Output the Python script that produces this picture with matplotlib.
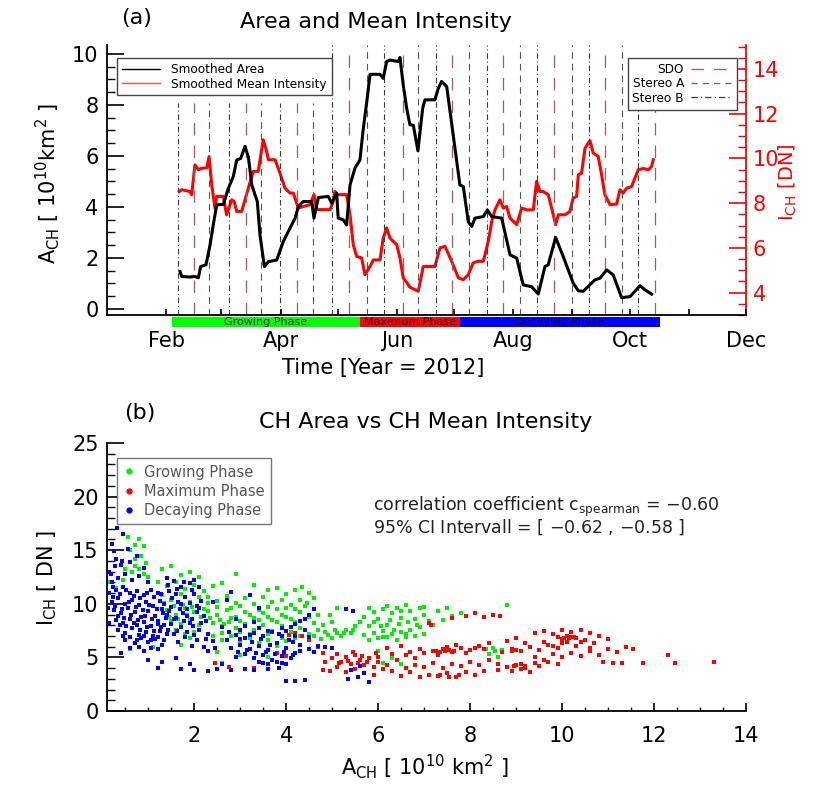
import numpy as np
import matplotlib
matplotlib.use("Agg")
import matplotlib.pyplot as plt
import matplotlib.transforms as mtransforms
from matplotlib.patches import Rectangle
from matplotlib.lines import Line2D
from matplotlib.ticker import MultipleLocator, FixedLocator, FixedFormatter

# ---------------- top panel data (day of year 2012, 0 = 1 Jan) ----------------
area_day = [38.3, 39.2, 43.5, 46.1, 47.9, 49.1, 51.9, 54.0, 55.7, 57.5, 61.0, 63.6, 66.2, 68.0,
            70.1, 72.3, 74.1, 75.9, 78.8, 80.2, 82.5, 84.6, 89.0, 92.4, 95.9, 98.6, 100.3, 102.9,
            107.3, 108.5, 110.8, 116.0, 117.8, 120.4, 121.2, 123.9, 125.6, 127.4, 130.0, 132.6,
            134.4, 136.1, 137.9, 143.1, 144.8, 146.6, 148.3, 152.7, 153.6, 155.3, 157.1, 158.8,
            160.6, 163.0, 165.5, 166.7, 171.9, 173.7, 175.4, 178.1, 181.5, 185.0, 186.8, 189.4,
            191.2, 192.9, 197.3, 199.4, 201.7, 206.9, 211.3, 214.8, 218.2, 222.6, 226.1, 229.6,
            231.3, 235.2, 239.2, 244.4, 247.1, 249.7, 255.8, 258.4, 262.0, 265.4, 269.8, 274.2,
            279.4, 282.0, 285.5]
area_val = [1.46, 1.27, 1.25, 1.27, 1.22, 1.66, 1.73, 2.5, 3.29, 4.08, 4.1, 4.73, 5.19, 5.84,
            5.9, 6.37, 5.97, 4.86, 4.21, 2.9, 1.66, 1.85, 1.92, 2.64, 3.16, 3.56, 4.01, 4.21,
            4.21, 3.56, 4.37, 4.41, 4.15, 4.54, 3.56, 3.49, 3.29, 4.86, 5.52, 5.84,
            7.09, 8.07, 9.2, 9.2, 9.04, 9.7, 9.76, 9.7, 9.86, 8.78, 7.87, 7.22,
            7.2, 6.2, 7.87, 8.2, 8.2, 8.65, 8.92, 8.72, 6.82, 4.86, 4.8, 3.42,
            3.23, 3.56, 3.62, 3.88, 3.62, 3.56, 2.12, 1.99, 0.94, 0.87, 0.58, 1.66,
            1.73, 2.8, 2.05, 1.01, 0.71, 0.69, 1.14, 1.2, 1.53, 1.33, 0.44, 0.48,
            0.91, 0.75, 0.58]

int_day = [37.9, 39.2, 43.5, 44.4, 46.1, 47.9, 49.1, 52.3, 53.5, 54.9, 56.6, 57.5, 61.0, 62.7,
           65.4, 66.7, 68.0, 70.6, 74.1, 76.7, 79.3, 81.9, 83.7, 84.6, 88.1, 90.7, 93.3, 95.9,
           97.7, 100.3, 102.9, 106.4, 108.5, 109.9, 116.9, 118.6, 119.5, 120.4, 125.6, 127.4,
           129.1, 130.9, 133.5, 135.2, 137.9, 139.6, 143.1, 144.8, 146.6, 148.3, 151.9, 153.6,
           155.3, 157.9, 158.8, 161.5, 163.2, 165.8, 171.9, 174.6, 177.2, 180.7, 184.2, 186.8,
           189.4, 192.0, 194.6, 197.3, 199.9, 201.7, 203.4, 206.0, 207.8, 209.5, 211.3, 214.8,
           217.4, 220.0, 223.5, 225.2, 227.0, 228.7, 231.3, 233.1, 235.2, 236.6, 240.1, 242.7,
           244.4, 246.2, 247.1, 248.8, 250.6, 253.2, 254.9, 257.5, 259.3, 261.0, 263.7, 267.2,
           268.9, 270.6, 272.4, 275.0, 276.8, 278.5, 281.1, 283.8, 285.5, 286.4]
int_val = [8.52, 8.6, 8.52, 8.38, 9.71, 9.49, 9.55, 9.58, 10.08, 8.82, 7.78, 8.3, 8.3, 7.48,
           8.15, 8.07, 7.63, 7.63, 8.67, 9.42, 9.42, 10.83, 10.31, 9.94, 9.94, 9.34, 8.67, 8.45,
           8.45, 7.78, 7.85, 7.93, 8.38, 7.71, 7.71, 8.07, 8.52, 8.38, 8.38, 7.48,
           6.14, 5.62, 5.55, 4.8, 5.17, 5.46, 5.46, 6.44, 6.89, 6.44, 6.14, 5.55,
           4.66, 4.36, 4.24, 4.13, 4.06, 5.17, 5.17, 6.0, 6.07, 5.4, 4.66, 4.58,
           4.8, 5.33, 5.4, 5.4, 6.29, 7.18, 7.7, 8.15, 7.78, 7.85, 7.33, 7.04,
           7.78, 7.7, 7.7, 8.97, 8.52, 8.52, 8.38, 7.78, 7.04, 7.48, 7.48, 7.63,
           8.23, 8.3, 9.27, 9.34, 10.46, 10.79, 10.24, 10.09, 9.27, 8.38, 7.93, 7.96,
           8.6, 8.45, 8.67, 8.74, 9.12, 9.49, 9.55, 9.49, 9.64, 9.94]

stb_days = [37.2, 64.0, 90.7, 118.0, 145.2, 172.5, 199.2, 225.4, 252.7, 278.4]
sdo_days = [45.6, 72.9, 99.6, 126.9, 155.2, 180.9, 207.6, 234.3, 261.1, 287.3]
sta_days = [53.5, 80.7, 108.0, 136.3, 163.0, 189.8, 216.5, 243.8, 270.0]

phase_names = ["Growing Phase", "Maximum Phase", "Decaying Phase"]
phase_start = [34.1, 132.6, 185.1]
phase_end = [132.6, 185.1, 289.9]
phase_colors = ["#00ff00", "#ff0000", "#0000ff"]
phase_text_colors = ["#003300", "#330000", "#00005a"]

month_days = [31, 60, 91, 121, 152, 182, 213, 244, 274, 305, 335]
month_labels = ["Feb", "", "Apr", "", "Jun", "", "Aug", "", "Oct", "", "Dec"]

# ---------------- bottom panel data: (area, intensity) ----------------
grow_pts = [
    (0.55, 16.2), (0.8, 16.0), (0.9, 15.4), (0.6, 15.0), (0.7, 14.2), (0.85, 14.5), (0.95, 13.8),
    (0.5, 13.2), (0.7, 13.5), (0.9, 12.8), (0.15, 12.0), (0.3, 11.5), (0.12, 11.0), (0.45, 12.2),
    (0.7, 15.5), (0.65, 13.0), (0.8, 13.2), (1.0, 12.5),
    (1.3, 13.2), (1.5, 13.5), (1.7, 12.7), (1.9, 13.0), (2.1, 12.5), (1.2, 12.0), (1.4, 11.7),
    (1.6, 12.0), (1.8, 11.4), (2.0, 11.8), (2.2, 11.2), (1.3, 10.8), (1.5, 10.4), (1.7, 10.9),
    (1.9, 10.2), (2.1, 10.6), (2.3, 10.1), (1.4, 9.4), (1.6, 9.0), (1.8, 9.6), (2.0, 9.2),
    (2.2, 9.5), (1.5, 8.4), (1.7, 8.1), (1.9, 8.5), (2.1, 8.0), (0.9, 7.0), (1.1, 6.0),
    (0.6, 5.8), (1.7, 6.2), (1.9, 6.8),
    (1.35, 10.1), (1.55, 9.8), (1.75, 9.9), (1.95, 9.7), (1.45, 8.8), (1.65, 8.6), (1.85, 9.0),
    (2.15, 8.8), (1.6, 7.6), (1.8, 7.2), (2.0, 7.4),
    (2.4, 11.7), (2.6, 11.9), (2.9, 12.8), (3.3, 11.8), (3.6, 11.3), (3.8, 11.5), (4.0, 10.9),
    (4.2, 11.3), (4.35, 11.6), (4.5, 11.0), (2.3, 10.6), (2.5, 10.3), (2.7, 10.7), (2.9, 10.1),
    (3.1, 10.5), (3.3, 10.0), (3.5, 10.6), (3.7, 10.2), (3.9, 10.4), (4.1, 9.9), (4.3, 10.4),
    (4.45, 10.1), (4.6, 10.5), (2.3, 9.3), (2.5, 9.0), (2.7, 9.4), (2.9, 8.8), (3.1, 9.2),
    (3.3, 8.7), (3.5, 9.1), (3.7, 8.5), (3.9, 9.0), (4.1, 8.6), (4.3, 9.2), (4.5, 8.8),
    (4.7, 9.0), (2.4, 8.2), (2.6, 7.9), (2.75, 8.3), (2.9, 7.7), (3.1, 8.1), (3.3, 7.6),
    (3.5, 8.0), (3.7, 7.5), (3.9, 7.9), (4.1, 7.4), (4.3, 7.7), (4.5, 7.2), (2.4, 7.0),
    (2.6, 6.6), (2.8, 7.0), (3.0, 6.4), (3.2, 6.8), (3.4, 6.3), (3.6, 6.6), (3.8, 6.1),
    (4.0, 6.5), (4.2, 6.8), (2.5, 5.5), (2.6, 4.5), (3.0, 5.2), (3.6, 5.0),
    (2.35, 8.7), (2.55, 8.5), (2.65, 8.1), (2.8, 8.7), (3.0, 8.4), (3.2, 9.0), (3.4, 8.5),
    (3.6, 8.8), (3.8, 8.3), (4.0, 8.8), (4.2, 8.3), (4.4, 8.6), (4.6, 8.2), (2.5, 9.7),
    (2.8, 9.6), (3.0, 9.8), (3.4, 9.4), (3.6, 9.7), (3.8, 9.5), (4.0, 9.6), (4.2, 9.5),
    (4.4, 9.8), (2.6, 7.3), (3.0, 7.4), (3.2, 7.2), (3.6, 7.2), (3.9, 6.8), (4.3, 7.0),
    (4.6, 7.0), (4.75, 6.7), (4.9, 7.1), (5.0, 6.8), (5.1, 7.3), (5.2, 7.0), (5.3, 7.6),
    (5.4, 7.3), (5.5, 7.9), (4.8, 8.0), (5.0, 8.3), (4.95, 9.0), (5.1, 9.6),
    (4.7, 7.6), (4.85, 7.4), (5.05, 7.6), (5.25, 7.3), (5.45, 7.6),
    (5.6, 8.3), (5.7, 8.8), (5.8, 7.9), (5.9, 9.2), (6.0, 8.6), (6.1, 9.5), (6.2, 8.0),
    (6.3, 9.1), (6.4, 9.6), (6.5, 8.7), (6.6, 9.9), (6.7, 9.3), (6.8, 8.6), (6.9, 9.6),
    (7.0, 9.0), (7.1, 8.4), (5.7, 7.1), (5.8, 6.6), (5.9, 7.3), (6.0, 6.8), (6.1, 7.5),
    (6.2, 6.9), (6.3, 7.2), (6.4, 6.6), (6.5, 7.4), (6.6, 6.9), (6.7, 7.6), (6.8, 7.0),
    (6.9, 7.8), (7.0, 7.2), (7.2, 8.0), (7.3, 9.3), (7.5, 9.6), (7.6, 8.9), (7.8, 9.1),
    (7.0, 9.7), (7.4, 8.5), (8.8, 9.9),
    (5.9, 8.3), (6.05, 7.9), (6.25, 8.5), (6.45, 8.1), (6.65, 8.3), (6.85, 8.0), (6.1, 6.9),
    (6.35, 7.6), (6.6, 7.2), (5.8, 9.6), (6.2, 9.8), (6.5, 9.3),
    (6.1, 4.5), (6.3, 4.9), (6.5, 4.4), (6.0, 5.6), (8.4, 5.3), (8.5, 5.9), (8.55, 5.6),
    (8.6, 5.0), (8.7, 5.7), (8.35, 5.8)]

max_pts = [
    (3.5, 5.2), (3.8, 5.4), (4.0, 5.1), (4.05, 7.1), (4.2, 7.3), (4.35, 7.0), (4.5, 6.6),
    (2.45, 4.5), (2.75, 4.1), (3.3, 4.0), (4.7, 6.0), (4.8, 5.4), (4.85, 4.6), (4.8, 3.8),
    (4.95, 3.7), (5.0, 4.9), (5.1, 5.3), (5.2, 4.6), (5.3, 5.0), (5.4, 4.4), (5.5, 5.2),
    (5.6, 4.8), (5.7, 4.3), (5.8, 4.9), (5.9, 4.1), (6.0, 4.6), (6.1, 3.9), (6.2, 4.3),
    (5.1, 4.1), (5.3, 3.6), (5.5, 3.9), (5.7, 3.5), (5.9, 3.4), (6.3, 3.7), (6.5, 3.3),
    (6.7, 3.6), (6.9, 3.2), (7.1, 3.4), (7.3, 3.3), (7.5, 3.5), (7.7, 3.2), (7.9, 3.6),
    (8.1, 3.4), (8.3, 3.7), (6.4, 4.8), (6.6, 5.2), (6.8, 4.9), (7.0, 5.4), (7.2, 5.6),
    (7.4, 5.8), (7.6, 5.5), (7.8, 5.9), (8.0, 5.7), (8.2, 6.1), (8.4, 6.3), (7.3, 5.2),
    (7.5, 6.0), (7.7, 6.2), (7.9, 5.4), (6.6, 4.0), (6.8, 4.3), (7.0, 4.1), (7.2, 4.5),
    (7.4, 4.0), (7.6, 4.4), (7.8, 4.2), (8.0, 4.6), (8.2, 4.3), (8.4, 4.8), (8.6, 4.4),
    (8.8, 4.1), (9.0, 4.3), (9.2, 4.0), (9.4, 4.5), (8.6, 3.8), (8.9, 3.7), (9.1, 3.9),
    (9.3, 3.6), (8.7, 5.5), (8.9, 5.8), (9.1, 5.6), (9.3, 6.0), (9.5, 5.7), (9.7, 6.2),
    (9.9, 5.9), (10.1, 6.4), (10.3, 6.1), (10.5, 6.6), (10.7, 6.3), (8.8, 6.5), (9.0, 6.8),
    (9.2, 6.3), (9.4, 5.0), (9.6, 4.8), (9.8, 5.3), (10.0, 5.0), (10.2, 5.4), (10.4, 5.1),
    (10.6, 5.6), (10.8, 5.2), (11.0, 5.8), (11.2, 5.5), (10.9, 4.6), (11.1, 4.5), (11.4, 6.0),
    (11.3, 4.5), (9.4, 7.3), (9.6, 7.5), (9.8, 7.2), (10.0, 7.6), (10.2, 7.4), (10.4, 7.6),
    (10.6, 7.3), (10.8, 7.0), (9.9, 6.9), (10.1, 7.0), (10.3, 6.8), (10.0, 6.7), (10.2, 6.9),
    (7.1, 8.2), (7.15, 8.0), (7.9, 8.9), (8.1, 9.1), (8.3, 8.8), (8.5, 9.0), (8.65, 8.9),
    (7.6, 8.7), (11.75, 4.5), (12.3, 5.2), (12.45, 4.5), (13.3, 4.6), (11.55, 5.8), (11.0, 6.7),
    (6.2, 5.9), (6.5, 6.1),
    (5.15, 4.5), (5.35, 4.7), (5.55, 4.5), (5.75, 4.6), (5.45, 5.5), (5.65, 5.1), (7.25, 5.6),
    (7.35, 5.5), (7.45, 5.6), (7.55, 5.7), (7.65, 5.6), (7.35, 3.4), (7.55, 3.2), (7.75, 3.4),
    (8.9, 5.6), (9.0, 5.7), (8.95, 4.2), (9.1, 4.4), (9.2, 4.2), (10.05, 6.8), (10.15, 6.8),
    (10.25, 6.9), (9.6, 6.4), (9.8, 6.1), (10.0, 6.3), (10.4, 6.4), (10.6, 5.9), (9.5, 4.2),
    (9.7, 4.6), (9.9, 4.4), (8.1, 5.9), (8.3, 5.8), (6.9, 5.8), (6.7, 5.5), (6.3, 5.3),
    (6.0, 5.0), (5.95, 5.4)]

dec_pts = [
    (0.37, 18.6), (0.48, 18.0), (0.31, 17.1), (0.2, 15.6), (0.25, 14.9), (0.45, 16.5),
    (0.55, 15.1), (0.3, 14.2), (0.15, 13.0), (0.4, 13.6), (0.6, 13.9), (0.75, 14.5), (0.9, 13.3),
    (0.2, 12.0), (0.35, 12.4), (0.5, 12.8), (0.65, 12.2), (0.8, 12.6), (1.0, 12.0),
    (0.18, 12.8), (0.28, 13.5), (0.42, 14.0), (0.22, 10.6), (0.12, 9.6), (0.15, 8.2),
    (0.15, 11.0), (0.3, 11.3), (0.45, 11.6), (0.6, 11.0), (0.75, 11.2), (0.9, 10.8), (1.05, 11.3),
    (1.2, 11.0), (0.2, 10.2), (0.35, 10.5), (0.5, 10.0), (0.65, 10.4), (0.8, 9.9), (0.95, 10.2),
    (1.1, 9.8), (1.25, 10.3), (0.25, 9.4), (0.4, 9.1), (0.55, 9.6), (0.7, 9.2), (0.85, 8.8),
    (1.0, 9.3), (1.15, 8.9), (1.3, 9.5), (0.3, 8.5), (0.45, 8.2), (0.6, 8.6), (0.75, 8.0),
    (0.9, 8.3), (1.05, 7.9), (1.2, 8.4), (1.35, 8.0), (0.35, 7.6), (0.5, 7.3), (0.65, 7.7),
    (0.8, 7.1), (0.95, 7.4), (1.1, 7.0), (1.25, 7.5), (1.4, 7.2), (0.5, 6.6), (0.7, 6.3),
    (0.85, 6.8), (1.0, 6.4), (1.15, 6.7), (1.3, 6.2), (0.6, 5.9), (0.9, 5.6), (1.2, 5.8),
    (0.4, 5.4),
    (0.22, 11.6), (0.38, 10.9), (0.52, 11.3), (0.68, 10.7), (0.82, 10.5), (0.98, 11.0),
    (1.12, 10.6), (1.28, 10.9), (0.28, 9.8), (0.42, 9.5), (0.58, 10.2), (0.72, 9.7), (0.88, 9.4),
    (1.02, 9.9), (1.18, 9.5), (1.32, 9.1), (0.33, 8.9), (0.48, 8.7), (0.62, 9.0), (0.78, 8.5),
    (0.92, 8.9), (1.08, 8.6), (1.22, 8.1), (1.38, 8.7), (0.38, 8.0), (0.52, 7.9), (0.68, 8.2),
    (0.82, 7.6), (0.98, 7.8), (1.12, 7.5), (1.28, 7.8), (1.42, 7.6), (0.45, 7.0), (0.6, 6.9),
    (0.75, 6.6), (0.9, 7.0), (1.05, 6.6), (1.2, 6.9), (1.35, 6.6), (0.8, 6.0), (1.05, 5.9),
    (1.4, 12.4), (1.55, 12.1), (1.7, 11.6), (1.9, 11.9), (2.0, 12.2), (1.45, 11.2), (1.6, 10.9),
    (1.8, 10.6), (2.0, 10.9), (2.15, 10.3), (1.35, 10.0), (1.5, 9.7), (1.65, 10.2), (1.85, 9.5),
    (2.05, 9.8), (1.4, 9.0), (1.6, 8.7), (1.75, 9.1), (1.95, 8.6), (2.2, 8.9), (1.5, 8.1),
    (1.7, 7.8), (1.9, 8.2), (2.1, 7.6), (1.55, 7.2), (1.8, 6.9), (2.0, 7.1), (2.25, 6.7),
    (1.65, 6.4), (1.95, 6.1), (2.2, 6.0), (2.4, 6.5),
    (1.42, 11.8), (1.62, 11.4), (1.78, 12.0), (1.95, 11.3), (2.1, 11.6), (1.52, 10.5),
    (1.72, 10.0), (1.9, 10.1), (2.1, 9.6), (1.45, 9.3), (1.68, 9.5), (1.85, 8.9), (2.05, 9.2),
    (2.25, 8.4), (1.55, 8.6), (1.78, 8.4), (1.98, 7.9), (2.15, 8.2), (1.62, 7.5), (1.85, 7.4),
    (2.05, 6.6), (2.3, 7.2), (2.45, 5.9), (2.3, 5.6),
    (1.0, 4.8), (1.3, 4.6), (1.6, 4.9), (1.9, 4.4), (1.7, 3.9), (2.0, 3.8), (2.3, 3.7),
    (2.5, 3.9), (2.8, 3.8), (3.1, 3.9), (3.3, 3.8), (3.6, 3.9), (3.85, 4.0), (2.6, 4.4),
    (1.2, 4.0),
    (2.6, 7.8), (2.9, 8.6), (3.1, 7.9), (3.3, 8.3), (2.7, 6.6), (2.9, 7.1), (3.1, 6.8),
    (3.3, 7.3), (3.5, 7.0), (3.7, 7.4), (3.9, 7.7), (2.8, 5.9), (3.0, 6.2), (3.2, 5.8),
    (3.4, 6.1), (3.6, 5.7), (3.8, 6.3), (4.0, 5.9), (2.9, 5.0), (3.1, 5.3), (3.3, 4.9),
    (3.5, 5.2), (3.7, 4.8), (3.9, 5.1), (4.1, 4.9), (4.2, 5.4), (3.5, 4.5), (3.8, 4.6),
    (4.0, 4.4), (2.4, 10.2), (2.7, 10.4), (2.8, 11.1), (3.2, 10.8), (3.4, 9.6),
    (2.75, 7.4), (3.0, 7.6), (3.2, 7.1), (3.4, 7.7), (3.6, 7.5), (3.0, 6.7), (3.25, 6.4),
    (3.45, 6.7), (3.65, 6.2), (2.95, 5.5), (3.15, 5.7), (3.35, 5.4), (3.55, 5.5), (3.75, 5.3),
    (3.95, 5.5), (4.15, 5.2), (4.3, 5.6), (3.4, 4.6), (3.6, 4.4), (3.9, 4.5), (4.4, 7.6),
    (4.2, 7.0), (3.85, 7.2), (4.15, 6.4), (4.5, 6.9),
    (3.9, 7.0), (4.0, 7.5), (4.1, 7.8), (4.2, 8.1), (4.3, 8.4), (4.4, 8.6), (4.5, 9.0),
    (4.6, 9.5), (4.05, 6.6), (4.3, 6.2),
    (4.5, 5.8), (4.7, 6.1), (4.85, 6.0), (4.6, 5.5), (5.0, 5.9), (5.3, 9.5), (5.45, 9.3),
    (5.4, 3.8), (5.55, 3.2), (5.7, 3.5), (5.8, 2.7), (5.6, 4.2), (5.35, 3.0),
    (4.0, 2.8), (4.2, 2.8), (4.4, 2.9)]

corr_line1 = r"correlation coefficient c$_{\mathregular{spearman}}$ = $-$0.60"
corr_line2 = r"95% CI Intervall = [ $-$0.62 , $-$0.58 ]"

# ---------------- figure ----------------
W, H = 830, 790
fig = plt.figure(figsize=(W / 100, H / 100), dpi=100)
plt.rcParams["mathtext.fontset"] = "dejavusans"


def fx(x):
    return x / W


def fy(y):
    return 1 - y / H


# top axes: left 107, right 746, top 45, bottom 315 (pixels)
ax1 = fig.add_axes([fx(107), fy(315), fx(746) - fx(107), fy(45) - fy(315)])
ax2 = ax1.twinx()

ax1.set_xlim(0, 335)
ax1.set_ylim(-0.24, 10.35)
ax2.set_ylim(3.0, 15.07)

# vertical observation lines
sdo_col = "#a8585f"
for d in stb_days:
    top = 0.785 if d < 115 else (0.77 if d > 275 else 1.0)
    ax1.axvline(d, ymin=0, ymax=top, color="#3a3a3a", lw=0.8, dashes=(5, 2.5, 1, 2.5), zorder=1)
for d in sdo_days:
    top = 0.785 if d < 115 else (0.77 if d > 275 else 1.0)
    ax1.axvline(d, ymin=0, ymax=top, color=sdo_col, lw=0.9, dashes=(10, 8), zorder=1)
for d in sta_days:
    top = 0.785 if d < 115 else (0.77 if d > 275 else 1.0)
    ax1.axvline(d, ymin=0, ymax=top, color="#555555", lw=0.8, dashes=(6, 4.5), zorder=1)

ax2.plot(int_day, int_val, color="#ff0000", lw=2.2, zorder=3)
ax1.plot(area_day, area_val, color="black", lw=2.2, zorder=4)
ax1.set_zorder(ax2.get_zorder() + 1)
ax1.patch.set_visible(False)

# spines
for s in ["top", "right"]:
    ax1.spines[s].set_visible(False)
for s in ["top", "left", "bottom"]:
    ax2.spines[s].set_visible(False)
ax2.spines["right"].set_color("#ff0000")
ax2.spines["right"].set_linewidth(1.3)
ax1.spines["left"].set_linewidth(1.3)
ax1.spines["bottom"].set_linewidth(1.3)

ax1.xaxis.set_major_locator(FixedLocator(month_days))
ax1.xaxis.set_major_formatter(FixedFormatter(month_labels))
ax1.tick_params(axis="x", direction="in", length=4, width=1.2, pad=11.5, labelsize=15)
ax1.yaxis.set_major_locator(MultipleLocator(2))
ax1.yaxis.set_minor_locator(MultipleLocator(0.5))
ax1.tick_params(axis="y", which="major", direction="in", length=12, width=1.2, pad=6, labelsize=15)
ax1.tick_params(axis="y", which="minor", direction="in", length=6, width=1.0)
ax2.yaxis.set_major_locator(MultipleLocator(2))
ax2.yaxis.set_minor_locator(MultipleLocator(0.5))
ax2.tick_params(axis="y", which="major", direction="in", length=12, width=1.2, pad=5,
                labelsize=15, colors="#ff0000")
ax2.tick_params(axis="y", which="minor", direction="in", length=6, width=1.0, colors="#ff0000")

# phase bar below the time axis
trans = mtransforms.blended_transform_factory(ax1.transData, ax1.transAxes)
for name, s0, s1, c, tc in zip(phase_names, phase_start, phase_end, phase_colors, phase_text_colors):
    ax1.add_patch(Rectangle((s0, -0.045), s1 - s0, 0.037, transform=trans, color=c,
                            clip_on=False, zorder=5, lw=0))
    ax1.text((s0 + s1) / 2, -0.027, name, transform=trans, ha="center", va="center",
             fontsize=8, color=tc, zorder=6, clip_on=False)

# legends
h1 = [Line2D([], [], color="black", lw=1.0), Line2D([], [], color="#ff5050", lw=1.0)]
leg1 = ax1.legend(h1, ["Smoothed Area", "Smoothed Mean Intensity"], loc="upper left",
                  bbox_to_anchor=(0.0156, 0.952), borderaxespad=0, fontsize=8.7,
                  frameon=True, fancybox=False, edgecolor="#444444", framealpha=1,
                  handlelength=3.2, handletextpad=0.9, labelspacing=0.15, borderpad=0.4)
leg1.get_frame().set_linewidth(1.0)
ax1.add_artist(leg1)

h2 = [Line2D([], [], color=sdo_col, lw=0.9, dashes=(10, 8)),
      Line2D([], [], color="#666666", lw=0.9, dashes=(5, 4)),
      Line2D([], [], color="#3a3a3a", lw=0.9, dashes=(5, 2.5, 1, 2.5))]
leg2 = ax1.legend(h2, ["SDO", "Stereo A", "Stereo B"], loc="upper right",
                  bbox_to_anchor=(0.986, 0.952), borderaxespad=0, fontsize=8.7,
                  frameon=True, fancybox=False, edgecolor="#444444", framealpha=1,
                  handlelength=3.4, handletextpad=0.6, labelspacing=0.12, borderpad=0.4,
                  markerfirst=False)
leg2.get_frame().set_linewidth(1.0)

# labels and titles (top)
fig.text(fx(137), fy(18), "(a)", ha="center", va="center", fontsize=16)
fig.text(fx(376), fy(22), "Area and Mean Intensity", ha="center", va="center", fontsize=16)
fig.text(fx(383), fy(368), "Time [Year = 2012]", ha="center", va="center", fontsize=15)
fig.text(fx(48), fy(183),
         r"A$_{\mathregular{CH}}$ [ 10$^{\mathregular{10}}$km$^{\mathregular{2}}$ ]",
         ha="center", va="center", rotation=90, fontsize=15)
fig.text(fx(788), fy(182), r"I$_{\mathregular{CH}}$ [DN]", ha="center", va="center",
         rotation=90, fontsize=14, color="#ff0000")

# ---------------- bottom axes: left 107, right 746, top 443, bottom 711 ----------------
ax3 = fig.add_axes([fx(107), fy(711), fx(746) - fx(107), fy(443) - fy(711)])
ax3.set_xlim(0.1, 14)
ax3.set_ylim(0, 25)

gx, gy = zip(*grow_pts)
mx, my = zip(*max_pts)
dx, dy = zip(*dec_pts)
ax3.scatter(gx, gy, s=6, marker="s", color="#00ee00", linewidths=0, zorder=2)
ax3.scatter(mx, my, s=6, marker="s", color="#ff0000", linewidths=0, zorder=3)
ax3.scatter(dx, dy, s=6, marker="s", color="#0000ff", linewidths=0, zorder=4)

for s in ["top", "right"]:
    ax3.spines[s].set_visible(False)
ax3.spines["left"].set_linewidth(1.3)
ax3.spines["bottom"].set_linewidth(1.3)
ax3.xaxis.set_major_locator(MultipleLocator(2))
ax3.xaxis.set_minor_locator(MultipleLocator(0.5))
ax3.yaxis.set_major_locator(MultipleLocator(5))
ax3.yaxis.set_minor_locator(MultipleLocator(1))
ax3.tick_params(axis="x", which="major", direction="in", length=6, width=1.2, pad=10.5, labelsize=15)
ax3.tick_params(axis="x", which="minor", direction="in", length=3, width=1.0)
ax3.tick_params(axis="y", which="major", direction="in", length=12, width=1.2, pad=6, labelsize=15)
ax3.tick_params(axis="y", which="minor", direction="in", length=6, width=1.0)

h3 = [Line2D([], [], ls="none", marker="o", ms=3.5, color=c) for c in ["#00ee00", "#ff0000", "#0000ff"]]
leg3 = ax3.legend(h3, phase_names, loc="upper left", bbox_to_anchor=(0.0156, 0.944),
                  borderaxespad=0, fontsize=10.5, frameon=True, fancybox=False,
                  edgecolor="#777777", framealpha=1, handlelength=0.8, handletextpad=0.6,
                  labelspacing=0.28, borderpad=0.45, labelcolor="#555555")
leg3.get_frame().set_linewidth(1.0)

fig.text(fx(373), fy(507), corr_line1, ha="left", va="center", fontsize=12.5, color="#222222")
fig.text(fx(373), fy(527), corr_line2, ha="left", va="center", fontsize=12.5, color="#222222")

fig.text(fx(140), fy(413), "(b)", ha="center", va="center", fontsize=16)
fig.text(fx(426), fy(422), "CH Area vs CH Mean Intensity", ha="center", va="center", fontsize=16)
fig.text(fx(47), fy(578), r"I$_{\mathregular{CH}}$ [ DN ]", ha="center", va="center",
         rotation=90, fontsize=15)
fig.text(fx(425), fy(767),
         r"A$_{\mathregular{CH}}$ [ 10$^{\mathregular{10}}$ km$^{\mathregular{2}}$ ]",
         ha="center", va="center", fontsize=15)

fig.savefig("out.png", dpi=100)
